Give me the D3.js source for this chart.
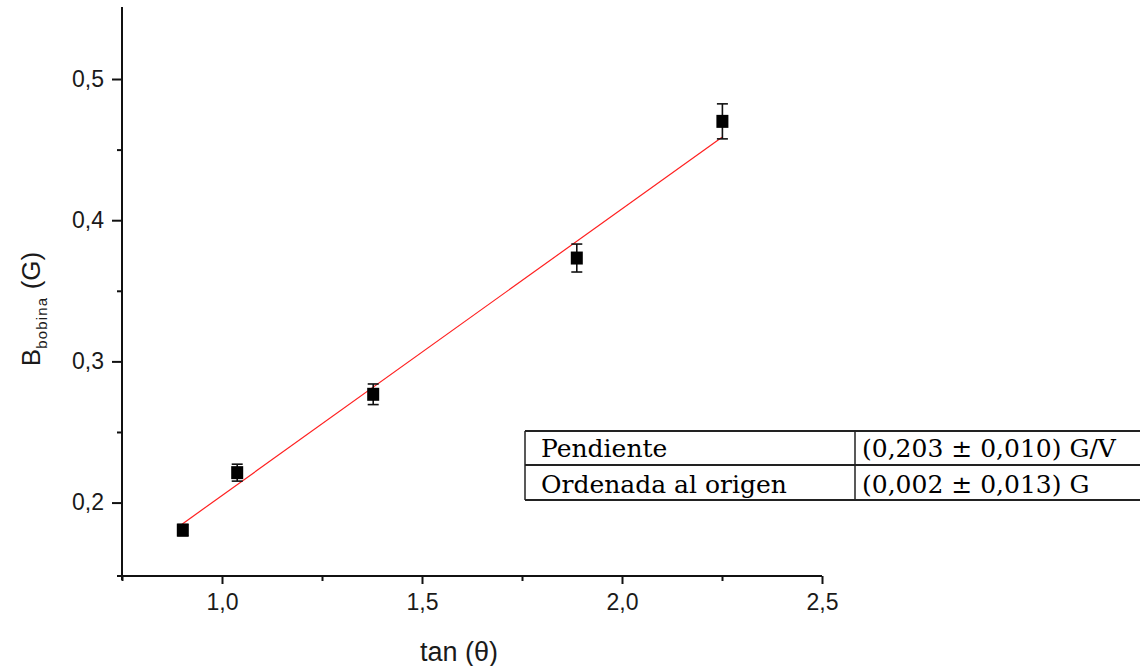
<!DOCTYPE html>
<html>
<head>
<meta charset="utf-8">
<script src="https://cdn.jsdelivr.net/npm/d3@7"></script>
<style>
html,body{margin:0;padding:0;background:#fff;}
svg{display:block;}
</style>
</head>
<body>
<svg id="chart" width="1140" height="666"></svg>
<script>
// ---- data ----
const tanTheta = [0.902, 1.038, 1.378, 1.887, 2.251];
const bBobina  = [0.1805, 0.2212, 0.2767, 0.3732, 0.4700];
const bError   = [0.004, 0.006, 0.0073, 0.0099, 0.0124];
const fitX = [0.90, 2.25];
const fitY = [0.1847, 0.4588];
const xTicks = [1.0, 1.5, 2.0, 2.5];
const xMinorTicks = [0.75, 1.25, 1.75, 2.25];
const yTicks = [0.2, 0.3, 0.4, 0.5];
const yMinorTicks = [0.25, 0.35, 0.45];
const tableRows = ["Pendiente", "Ordenada al origen"];
const tableValues = ["(0,203 ± 0,010) G/V", "(0,002 ± 0,013) G"];

const svg = d3.select("#chart");
const x = d3.scaleLinear().domain([0.75, 2.5]).range([122, 822]);
const y = d3.scaleLinear().domain([0.148, 0.551]).range([576, 7]);
const fmt = d => d3.format(".1f")(d).replace(".", ",");

// axes
const yAxis = svg.append("g").attr("transform", `translate(${x(0.75)},0)`)
  .call(d3.axisLeft(y).tickValues(yTicks).tickFormat(fmt).tickSize(10).tickSizeOuter(0).tickPadding(8));
const yMinor = svg.append("g").attr("transform", `translate(${x(0.75)},0)`)
  .call(d3.axisLeft(y).tickValues(yMinorTicks).tickFormat("").tickSize(5).tickSizeOuter(0));
const xAxis = svg.append("g").attr("transform", `translate(0,${y(0.148)})`)
  .call(d3.axisBottom(x).tickValues(xTicks).tickFormat(fmt).tickSize(8).tickSizeOuter(0).tickPadding(10));
const xMinor = svg.append("g").attr("transform", `translate(0,${y(0.148)})`)
  .call(d3.axisBottom(x).tickValues(xMinorTicks).tickFormat("").tickSize(5).tickSizeOuter(0));

[yAxis, yMinor, xAxis, xMinor].forEach(g => {
  g.select(".domain").remove();
  g.selectAll(".tick line").attr("stroke", "#111").attr("stroke-width", 2);
  g.selectAll(".tick text").attr("font-family", "Liberation Sans, Arial, sans-serif")
    .attr("font-size", 23).attr("fill", "#1a1a1a");
});

// axis lines
svg.append("line").attr("x1", x(0.75)).attr("x2", x(0.75)).attr("y1", y(0.551)).attr("y2", y(0.148) + 4)
  .attr("stroke", "#111").attr("stroke-width", 2);
svg.append("line").attr("x1", x(0.75) - 5).attr("x2", x(2.5)).attr("y1", y(0.148)).attr("y2", y(0.148))
  .attr("stroke", "#111").attr("stroke-width", 2);

// fit line
svg.append("line")
  .attr("x1", x(fitX[0])).attr("y1", y(fitY[0]))
  .attr("x2", x(fitX[1])).attr("y2", y(fitY[1]))
  .attr("stroke", "#ff2020").attr("stroke-width", 1.2);

// error bars
const pts = tanTheta.map((t, i) => ({t, b: bBobina[i], e: bError[i]}));
const eb = svg.append("g").attr("stroke", "#111").attr("stroke-width", 1.6);
pts.forEach(p => {
  eb.append("line").attr("x1", x(p.t)).attr("x2", x(p.t)).attr("y1", y(p.b - p.e)).attr("y2", y(p.b + p.e));
  eb.append("line").attr("x1", x(p.t) - 5.5).attr("x2", x(p.t) + 5.5).attr("y1", y(p.b - p.e)).attr("y2", y(p.b - p.e));
  eb.append("line").attr("x1", x(p.t) - 5.5).attr("x2", x(p.t) + 5.5).attr("y1", y(p.b + p.e)).attr("y2", y(p.b + p.e));
});
svg.append("g").selectAll("rect").data(pts).join("rect")
  .attr("x", p => x(p.t) - 6).attr("y", p => y(p.b) - 6.5)
  .attr("width", 12).attr("height", 13).attr("fill", "#000");

// axis titles
svg.append("text").attr("x", 459).attr("y", 661).attr("text-anchor", "middle")
  .attr("font-family", "Liberation Sans, Arial, sans-serif").attr("font-size", 27).attr("fill", "#1a1a1a")
  .text("tan (θ)");
const yl = svg.append("text").attr("transform", "translate(40,309) rotate(-90)").attr("text-anchor", "middle")
  .attr("font-family", "Liberation Sans, Arial, sans-serif").attr("font-size", 26).attr("fill", "#1a1a1a");
yl.append("tspan").text("B");
yl.append("tspan").attr("dy", 7).attr("font-size", 15).attr("letter-spacing", 1.2).text("bobina");
yl.append("tspan").attr("dy", -7).text(" (G)");

// table
const tbl = svg.append("g");
const rowY = [431, 465, 500];
const colX = [525, 855];
rowY.forEach(ry => tbl.append("line").attr("x1", colX[0]).attr("x2", 1140).attr("y1", ry).attr("y2", ry)
  .attr("stroke", "#222").attr("stroke-width", 2));
colX.forEach(cx => tbl.append("line").attr("x1", cx).attr("x2", cx).attr("y1", rowY[0]).attr("y2", rowY[2])
  .attr("stroke", "#222").attr("stroke-width", 1.5));
const baseY = [457, 493];
tableRows.forEach((r, i) => {
  tbl.append("text").attr("x", 541).attr("y", baseY[i]).attr("font-family", "DejaVu Serif, serif")
    .attr("font-size", 25).attr("fill", "#000").text(r);
  tbl.append("text").attr("x", 862).attr("y", baseY[i]).attr("font-family", "DejaVu Serif, serif")
    .attr("font-size", 25).attr("fill", "#000").text(tableValues[i]);
});
</script>
</body>
</html>
